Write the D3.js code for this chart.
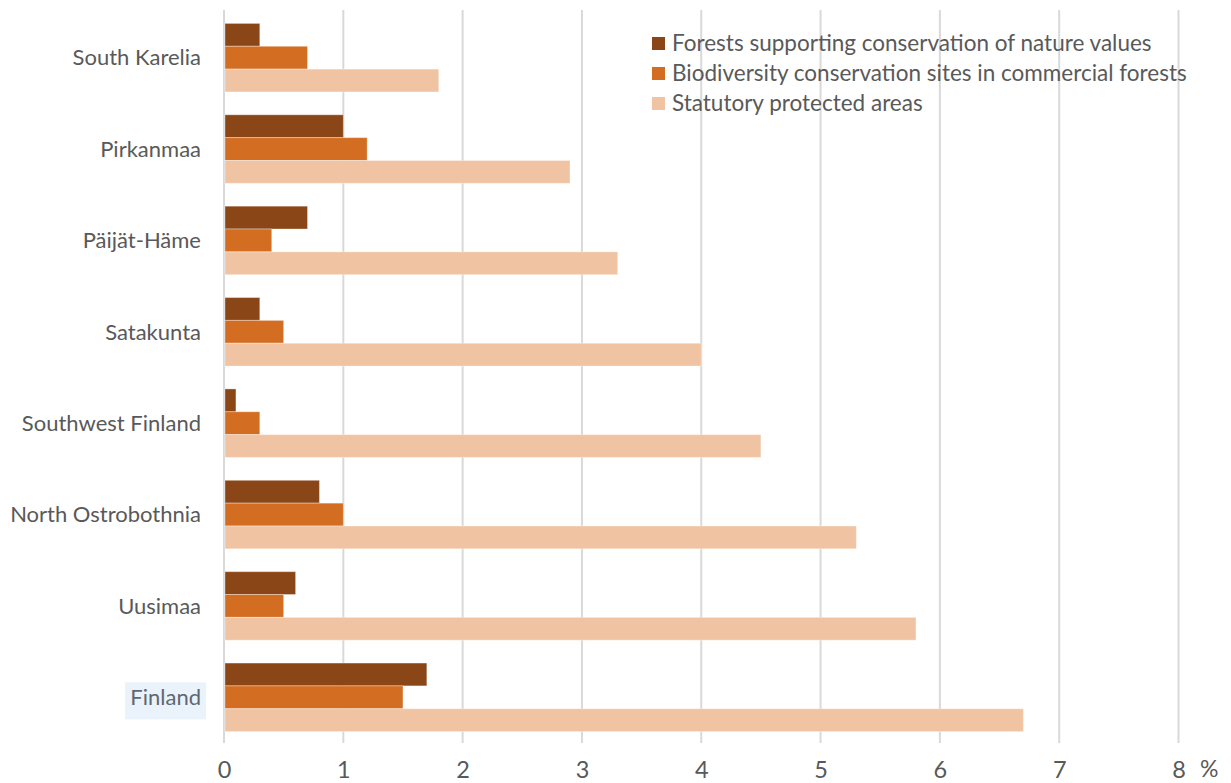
<!DOCTYPE html>
<html>
<head>
<meta charset="utf-8">
<script src="https://cdn.jsdelivr.net/npm/d3@7"></script>
<style>
  html, body { margin: 0; padding: 0; background: #fff; }
  svg { display: block; font-family: Lato, "Open Sans", sans-serif; }
</style>
</head>
<body>
<svg id="chart" width="1231" height="783"></svg>
<script>
// Regions, top to bottom
const regions = ["South Karelia", "Pirkanmaa", "Päijät-Häme", "Satakunta",
  "Southwest Finland", "North Ostrobothnia", "Uusimaa", "Finland"];

// Share of forest land, %
const seriesNames = [
  "Forests supporting conservation of nature values",
  "Biodiversity conservation sites in commercial forests",
  "Statutory protected areas"
];
const forestsSupporting = [0.3, 1.0, 0.7, 0.3, 0.1, 0.8, 0.6, 1.7];
const biodiversitySites = [0.7, 1.2, 0.4, 0.5, 0.3, 1.0, 0.5, 1.5];
const statutoryAreas   = [1.8, 2.9, 3.3, 4.0, 4.5, 5.3, 5.8, 6.7];
const xTicks = [0, 1, 2, 3, 4, 5, 6, 7, 8];
const colors = ["#8A4617", "#D26D21", "#F0C4A3"];

const seriesValues = [forestsSupporting, biodiversitySites, statutoryAreas];

const svg = d3.select("#chart");
const plotLeft = 224, plotRight = 1178.5, plotTop = 12, plotBottom = 743;

const x = d3.scaleLinear().domain([0, 8]).range([plotLeft, plotRight]);
const y = d3.scaleBand().domain(regions).range([plotTop, plotBottom]).paddingInner(0.25).paddingOuter(0.125);
const ySub = d3.scaleBand().domain([0, 1, 2]).range([0, y.bandwidth()]);

// vertical gridlines
svg.append("g")
  .selectAll("line")
  .data(xTicks)
  .join("line")
  .attr("x1", d => x(d)).attr("x2", d => x(d))
  .attr("y1", 10).attr("y2", plotBottom)
  .attr("stroke", "#D9D9D9")
  .attr("stroke-width", 2);

// bars
const groups = svg.append("g")
  .selectAll("g")
  .data(regions)
  .join("g")
  .attr("transform", d => `translate(0,${y(d)})`);

groups.selectAll("rect")
  .data((d, i) => seriesValues.map((vals, s) => ({ s, v: vals[i] })))
  .join("rect")
  .attr("x", x(0) + 1)
  .attr("y", d => ySub(d.s))
  .attr("width", d => x(d.v) - x(0) - 1)
  .attr("height", ySub.bandwidth())
  .attr("fill", d => colors[d.s])
  .attr("stroke", "#fff")
  .attr("stroke-opacity", 0.35)
  .attr("stroke-width", 1);

// highlighted background behind the national total label
const finY = y("Finland") + y.bandwidth() / 2;
svg.append("rect")
  .attr("x", 125).attr("y", finY - 15)
  .attr("width", 81).attr("height", 37)
  .attr("fill", "#EAF2FB");

// category labels
svg.append("g")
  .selectAll("text")
  .data(regions)
  .join("text")
  .attr("x", 201)
  .attr("y", d => y(d) + y.bandwidth() / 2)
  .attr("dy", "0.35em")
  .attr("text-anchor", "end")
  .attr("font-size", 22)
  .attr("fill", d => d === "Finland" ? "#5F6872" : "#595959")
  .text(d => d);

// x axis
const xAxis = svg.append("g")
  .attr("transform", `translate(0,${plotBottom})`)
  .call(d3.axisBottom(x).tickValues(xTicks).tickSize(0).tickPadding(18).tickFormat(d3.format("d")));
xAxis.select(".domain").remove();
xAxis.selectAll("text")
  .attr("font-size", 23.5)
  .attr("font-family", "Lato, 'Open Sans', sans-serif")
  .attr("fill", "#595959");

svg.append("text")
  .attr("x", 1200).attr("y", 777)
  .attr("font-size", 23)
  .attr("fill", "#595959")
  .text("%");

// legend
const legend = svg.append("g")
  .selectAll("g")
  .data(seriesNames)
  .join("g")
  .attr("transform", (d, i) => `translate(652,${43 + i * 30})`);
legend.append("rect")
  .attr("x", 0).attr("y", -6)
  .attr("width", 13).attr("height", 13)
  .attr("fill", (d, i) => colors[i]);
legend.append("text")
  .attr("x", 20).attr("y", 0)
  .attr("dy", "0.35em")
  .attr("font-size", 22.5)
  .attr("fill", "#595959")
  .text(d => d);
</script>
</body>
</html>
